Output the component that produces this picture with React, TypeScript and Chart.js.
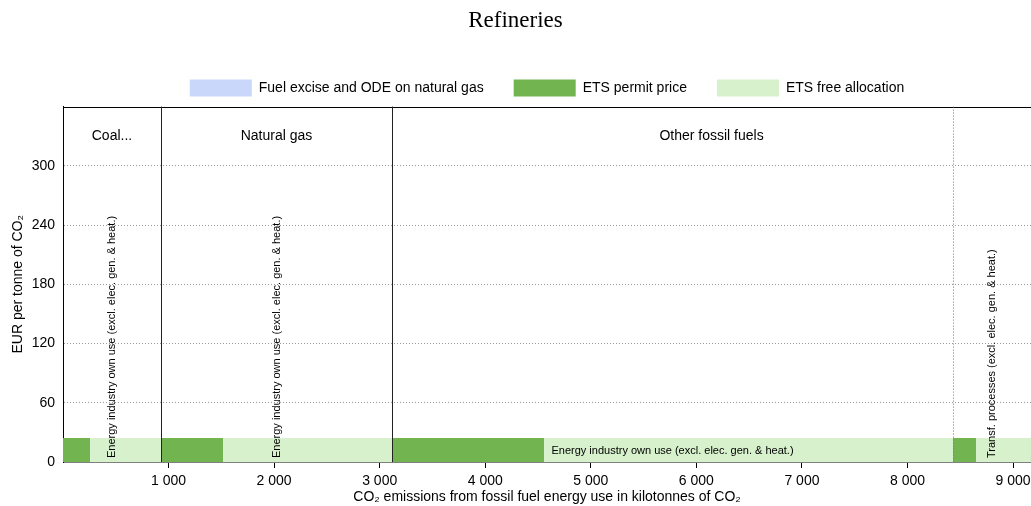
import React, { useEffect, useRef } from 'react';
import { Chart, registerables } from 'chart.js';

Chart.register(...registerables);

// ---------- data ----------
const chartTitle = 'Refineries';
const segmentFuels = ['Coal...', 'Natural gas', 'Other fossil fuels', 'Other fossil fuels'];
const segmentSectors = [
  'Energy industry own use (excl. elec. gen. & heat.)',
  'Energy industry own use (excl. elec. gen. & heat.)',
  'Energy industry own use (excl. elec. gen. & heat.)',
  'Transf. processes (excl. elec. gen. & heat.)',
];
// emissions (kt CO2) per segment
const segmentEmissions = [928, 2189, 5314, 739];
// part of emissions paying the ETS permit price (rest is free allocation)
const permitEmissions = [256, 588, 1440, 218];
// EUR per tonne of CO2
const fuelExciseRate = [0, 0, 0, 0];
const etsPriceRate = [24.4, 24.4, 24.4, 24.4];

const xTickValues = [1000, 2000, 3000, 4000, 5000, 6000, 7000, 8000, 9000];
const yTickValues = [0, 60, 120, 180, 240, 300];
const xMax = 9170;
const yMax = 360;

const legendNames = ['Fuel excise and ODE on natural gas', 'ETS permit price', 'ETS free allocation'];
const COLORS = {
  excise: '#c9d7fa',
  permit: '#72b550',
  free: '#d7f1cc',
};

const FONT = "'Liberation Sans', Arial, sans-serif";

function fmt(v: number): string {
  const s = String(Math.round(v));
  return s.replace(/\B(?=(\d{3})+(?!\d))/g, ' ');
}

export default function App() {
  const ref = useRef<HTMLCanvasElement | null>(null);

  useEffect(() => {
    if (!ref.current) return;

    const starts: number[] = [];
    let acc = 0;
    segmentEmissions.forEach((e) => {
      starts.push(acc);
      acc += e;
    });

    const datasets: any[] = [];
    const rect = (x0: number, x1: number, y0: number, y1: number, color: string) => ({
      data: [
        { x: x0, y: y1 },
        { x: x1, y: y1 },
      ],
      fill: { value: y0 },
      backgroundColor: color,
      borderColor: 'rgba(0,0,0,0)',
      borderWidth: 0,
      pointRadius: 0,
      pointHoverRadius: 0,
      tension: 0,
    });
    segmentEmissions.forEach((e, i) => {
      const s = starts[i];
      const end = s + e;
      const p = s + permitEmissions[i];
      const ex = fuelExciseRate[i];
      if (ex > 0) datasets.push(rect(s, end, 0, ex, COLORS.excise));
      datasets.push(rect(s, p, ex, ex + etsPriceRate[i], COLORS.permit));
      datasets.push(rect(p, end, ex, ex + etsPriceRate[i], COLORS.free));
    });

    const overlay = {
      id: 'overlay',
      afterLayout(chart: any) {
        const ca = chart.chartArea;
        if (chart.legend) {
          chart.legend.left = ca.left;
          chart.legend.right = ca.right;
        }
      },
      afterDatasetsDraw(chart: any) {
        const { ctx, chartArea: ca, scales } = chart;
        const xs = scales.x;
        const ys = scales.y;
        ctx.save();
        // top border
        ctx.strokeStyle = '#000';
        ctx.lineWidth = 1;
        ctx.beginPath();
        ctx.moveTo(ca.left, Math.round(ca.top) + 0.5);
        ctx.lineTo(ca.right, Math.round(ca.top) + 0.5);
        ctx.stroke();

        // separators
        for (let i = 1; i < segmentEmissions.length; i++) {
          const px = Math.round(xs.getPixelForValue(starts[i])) + 0.5;
          const fuelChange = segmentFuels[i] !== segmentFuels[i - 1];
          ctx.beginPath();
          if (fuelChange) {
            ctx.strokeStyle = '#222';
            ctx.setLineDash([]);
          } else {
            ctx.strokeStyle = '#777';
            ctx.setLineDash([1, 2]);
          }
          ctx.moveTo(px, ca.top);
          ctx.lineTo(px, ca.bottom);
          ctx.stroke();
        }
        ctx.setLineDash([]);

        // fuel labels
        ctx.fillStyle = '#000';
        ctx.font = `14px ${FONT}`;
        ctx.textAlign = 'center';
        ctx.textBaseline = 'middle';
        let i = 0;
        while (i < segmentFuels.length) {
          let j = i;
          while (j + 1 < segmentFuels.length && segmentFuels[j + 1] === segmentFuels[i]) j++;
          const a = xs.getPixelForValue(starts[i]);
          const b = xs.getPixelForValue(starts[j] + segmentEmissions[j]);
          ctx.fillText(segmentFuels[i], (a + b) / 2, ys.getPixelForValue(330));
          i = j + 1;
        }

        // sector labels
        ctx.font = `11px ${FONT}`;
        segmentSectors.forEach((txt, k) => {
          const a = xs.getPixelForValue(starts[k]);
          const b = Math.min(xs.getPixelForValue(starts[k] + segmentEmissions[k]), ca.right);
          const w = ctx.measureText(txt).width;
          const cx = (a + b) / 2;
          const top = ys.getPixelForValue(fuelExciseRate[k] + etsPriceRate[k]);
          const base = ys.getPixelForValue(0);
          if (w + 10 < b - a) {
            ctx.textAlign = 'center';
            ctx.textBaseline = 'middle';
            ctx.fillText(txt, cx, (top + base) / 2 + 1);
          } else {
            ctx.save();
            ctx.translate(cx, base - 4);
            ctx.rotate(-Math.PI / 2);
            ctx.textAlign = 'left';
            ctx.textBaseline = 'middle';
            ctx.fillText(txt, 0, 0);
            ctx.restore();
          }
        });
        ctx.restore();
      },
    };

    const chart = new Chart(ref.current, {
      type: 'line',
      data: { datasets },
      plugins: [overlay],
      options: {
        animation: false,
        responsive: true,
        maintainAspectRatio: false,
        layout: { padding: { left: 0, right: 0, top: 0, bottom: 0 } },
        plugins: {
          tooltip: { enabled: false },
          title: {
            display: true,
            text: chartTitle,
            color: '#000',
            font: { family: "'Liberation Serif', 'Times New Roman', serif", size: 23, weight: 'normal' as any },
            padding: { top: 7, bottom: 15 },
          },
          legend: {
            display: true,
            position: 'top',
            onClick: () => {},
            labels: {
              boxWidth: 62,
              boxHeight: 17,
              padding: 30,
              color: '#000',
              font: { family: FONT, size: 14 },
              generateLabels: () =>
                legendNames.map((n, idx) => ({
                  text: n,
                  fillStyle: [COLORS.excise, COLORS.permit, COLORS.free][idx],
                  strokeStyle: 'rgba(0,0,0,0)',
                  lineWidth: 0,
                  hidden: false,
                  datasetIndex: idx,
                })),
            },
          },
        },
        scales: {
          x: {
            type: 'linear',
            min: 0,
            max: xMax,
            afterBuildTicks: (scale: any) => {
              scale.ticks = xTickValues.map((v) => ({ value: v }));
            },
            afterFit: (scale: any) => {
              scale.height = 44;
              scale.paddingRight = 0;
            },
            ticks: {
              color: '#000',
              font: { family: FONT, size: 14 },
              padding: 5,
              maxRotation: 0,
              autoSkip: false,
              callback: (v: any) => fmt(Number(v)),
            },
            grid: { drawOnChartArea: false, drawTicks: true, tickLength: 6, color: '#000' },
            border: { display: true, color: '#808080', width: 1 },
            title: {
              display: true,
              text: 'CO₂ emissions from fossil fuel energy use in kilotonnes of CO₂',
              color: '#000',
              font: { family: FONT, size: 14 },
              padding: { top: 0, bottom: 0 },
            },
          },
          y: {
            type: 'linear',
            min: 0,
            max: yMax,
            afterBuildTicks: (scale: any) => {
              scale.ticks = yTickValues.map((v) => ({ value: v }));
            },
            afterFit: (scale: any) => {
              scale.width = 63;
            },
            ticks: {
              color: '#000',
              font: { family: FONT, size: 14 },
              padding: 8,
              callback: (v: any) => fmt(Number(v)),
            },
            grid: { drawTicks: false, color: '#999', lineWidth: 1 },
            border: { display: true, color: '#000', width: 1, dash: [1, 2] },
            title: {
              display: true,
              text: 'EUR per tonne of CO₂',
              color: '#000',
              font: { family: FONT, size: 14 },
              padding: { top: 10, bottom: 0 },
            },
          },
        },
      },
    });
    return () => chart.destroy();
  }, []);

  return (
    <div style={{ position: 'fixed', left: 0, top: 0, width: 1031, height: 506, background: '#fff' }}>
      <canvas ref={ref} />
    </div>
  );
}
